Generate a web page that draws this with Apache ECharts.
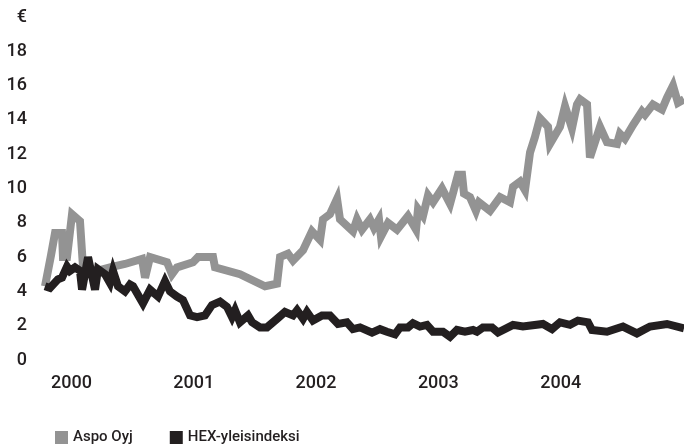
<!DOCTYPE html>
<html>
<head>
<meta charset="utf-8">
<script src="https://cdn.jsdelivr.net/npm/echarts@6/dist/echarts.min.js"></script>
<style>
  html, body { margin: 0; padding: 0; background: #ffffff; }
  #chart { width: 684px; height: 445px; }
</style>
</head>
<body>
<div id="chart"></div>
<script>
// x values are decimal years (2000.0 = start of 2000)
const yearLabels = [2000, 2001, 2002, 2003, 2004];

const aspoDates = [2000.000, 2000.049, 2000.082, 2000.139, 2000.147, 2000.180, 2000.221, 2000.286, 2000.311, 2000.368,
  2000.425, 2000.531, 2000.654, 2000.793, 2000.818, 2000.859, 2000.998, 2001.038, 2001.079, 2001.210,
  2001.251, 2001.374, 2001.390, 2001.594, 2001.799, 2001.897, 2001.922, 2001.987, 2002.028, 2002.110,
  2002.183, 2002.249, 2002.273, 2002.330, 2002.388, 2002.412, 2002.518, 2002.551, 2002.592, 2002.657,
  2002.690, 2002.731, 2002.747, 2002.805, 2002.878, 2002.968, 2003.034, 2003.050, 2003.091, 2003.132,
  2003.173, 2003.246, 2003.312, 2003.377, 2003.410, 2003.426, 2003.475, 2003.524, 2003.549, 2003.639,
  2003.721, 2003.802, 2003.827, 2003.884, 2003.925, 2003.966, 2004.006, 2004.047, 2004.113, 2004.129,
  2004.211, 2004.252, 2004.309, 2004.350, 2004.375, 2004.432, 2004.456, 2004.538, 2004.595, 2004.677,
  2004.701, 2004.742, 2004.808, 2004.881, 2004.906, 2004.971, 2005.045, 2005.086, 2005.135, 2005.176,
  2005.225];
const aspoValues = [4.3, 6.1, 7.4, 7.4, 6.0, 6.0, 8.5, 8.1, 5.4, 5.2,
  5.2, 5.4, 5.6, 5.9, 4.8, 6.0, 5.7, 5.0, 5.4, 5.7,
  6.0, 6.0, 5.4, 5.0, 4.3, 4.45, 6.0, 6.2, 5.8, 6.4,
  7.5, 7.0, 8.2, 8.5, 9.4, 8.2, 7.5, 8.2, 7.6, 8.2,
  7.7, 8.2, 7.2, 8.0, 7.6, 8.4, 7.6, 8.8, 8.4, 9.6,
  9.2, 10.0, 9.1, 10.8, 10.8, 9.7, 9.5, 8.7, 9.2, 8.7,
  9.5, 9.2, 10.1, 10.4, 9.9, 12.1, 13.0, 14.1, 13.6, 12.6,
  13.6, 14.8, 13.5, 14.9, 15.2, 14.9, 11.8, 13.6, 12.7, 12.6,
  13.2, 12.9, 13.7, 14.5, 14.3, 14.9, 14.6, 15.3, 16.0, 15.0,
  15.2];

const hexDates = [2000.000, 2000.041, 2000.106, 2000.139, 2000.180, 2000.204, 2000.245, 2000.286, 2000.303, 2000.352,
  2000.409, 2000.433, 2000.491, 2000.531, 2000.556, 2000.597, 2000.654, 2000.695, 2000.720, 2000.801,
  2000.859, 2000.924, 2000.981, 2001.022, 2001.079, 2001.128, 2001.186, 2001.243, 2001.308, 2001.365,
  2001.431, 2001.488, 2001.529, 2001.554, 2001.594, 2001.660, 2001.693, 2001.758, 2001.815, 2001.897,
  2001.962, 2002.028, 2002.061, 2002.110, 2002.142, 2002.191, 2002.265, 2002.330, 2002.396, 2002.469,
  2002.518, 2002.576, 2002.674, 2002.739, 2002.796, 2002.862, 2002.903, 2002.968, 2003.009, 2003.066,
  2003.123, 2003.173, 2003.254, 2003.312, 2003.369, 2003.434, 2003.500, 2003.532, 2003.581, 2003.655,
  2003.704, 2003.827, 2003.908, 2004.072, 2004.146, 2004.211, 2004.293, 2004.358, 2004.440, 2004.473,
  2004.595, 2004.726, 2004.840, 2004.947, 2005.086, 2005.225];
const hexValues = [4.3, 4.2, 4.7, 4.8, 5.45, 5.2, 5.4, 5.2, 4.1, 6.0,
  4.1, 5.3, 5.0, 4.5, 5.2, 4.3, 4.0, 4.4, 4.3, 3.3,
  4.1, 3.7, 4.6, 4.0, 3.7, 3.5, 2.6, 2.5, 2.6, 3.2,
  3.4, 3.1, 2.5, 2.9, 2.2, 2.6, 2.2, 1.9, 1.9, 2.4,
  2.8, 2.6, 2.9, 2.4, 2.8, 2.3, 2.6, 2.6, 2.1, 2.2,
  1.8, 1.9, 1.6, 1.8, 1.65, 1.5, 1.9, 1.9, 2.15, 1.95,
  2.05, 1.65, 1.65, 1.35, 1.75, 1.65, 1.75, 1.65, 1.9, 1.9,
  1.6, 2.05, 1.95, 2.1, 1.8, 2.2, 2.05, 2.3, 2.2, 1.75,
  1.65, 1.95, 1.55, 1.95, 2.1, 1.85];

const textColor = '#231f20';
const grayColor = '#939393';
const blackColor = '#231f20';

const chart = echarts.init(document.getElementById('chart'));
const option = {
  animation: false,
  grid: { left: 45, right: 0, top: 17, bottom: 85 },
  legend: {
    left: 50,
    top: 425,
    icon: 'rect',
    itemWidth: 13,
    itemHeight: 13,
    itemGap: 37,
    textStyle: {
      color: textColor,
      fontFamily: 'Roboto',
      fontWeight: 500,
      fontSize: 15
    },
    data: ['Aspo Oyj', 'HEX-yleisindeksi']
  },
  xAxis: {
    type: 'value',
    min: 2000,
    max: 2005.225,
    interval: 1,
    axisLine: { show: false },
    axisTick: { show: false },
    splitLine: { show: false },
    axisLabel: {
      margin: 14,
      align: 'left',
      padding: [0, 0, 0, 6],
      color: textColor,
      fontFamily: 'Roboto',
      fontWeight: 500,
      fontSize: 18,
      showMaxLabel: false,
      formatter: function (v) {
        return yearLabels.indexOf(v) >= 0 ? String(v) : '';
      }
    }
  },
  yAxis: {
    type: 'value',
    min: 0,
    max: 20,
    interval: 2,
    axisLine: { show: false },
    axisTick: { show: false },
    splitLine: { show: false },
    axisLabel: {
      margin: 18,
      color: textColor,
      fontFamily: 'Roboto',
      fontWeight: 500,
      fontSize: 18,
      formatter: function (v) { return v === 20 ? '€' : String(v); }
    }
  },
  series: [
    {
      name: 'Aspo Oyj',
      type: 'line',
      showSymbol: false,
      clip: false,
      itemStyle: { color: grayColor },
      lineStyle: { color: grayColor, width: 8, join: 'miter', miterLimit: 4 },
      data: aspoDates.map(function (d, i) { return [d, aspoValues[i]]; })
    },
    {
      name: 'HEX-yleisindeksi',
      type: 'line',
      showSymbol: false,
      clip: false,
      itemStyle: { color: blackColor },
      lineStyle: { color: blackColor, width: 8, join: 'miter', miterLimit: 4 },
      data: hexDates.map(function (d, i) { return [d, hexValues[i]]; })
    }
  ]
};
chart.setOption(option);
</script>
</body>
</html>
